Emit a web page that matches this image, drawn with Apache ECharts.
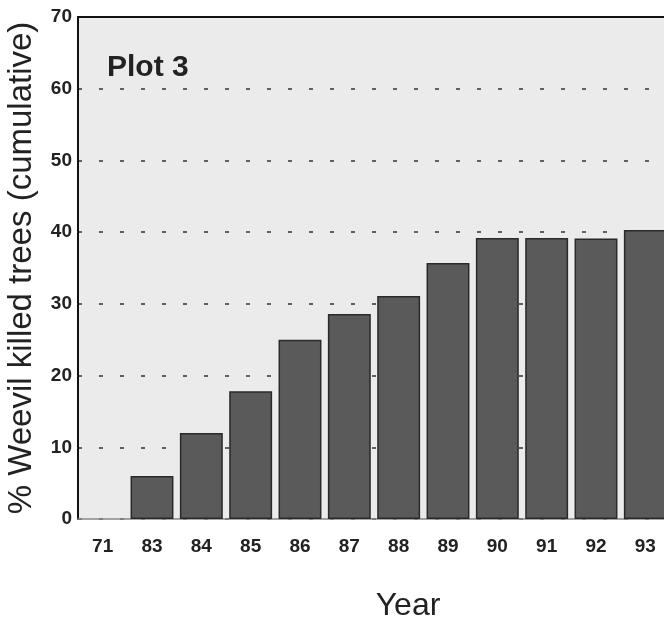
<!DOCTYPE html>
<html>
<head>
<meta charset="utf-8">
<script src="https://cdn.jsdelivr.net/npm/echarts@6/dist/echarts.min.js"></script>
<style>html,body{margin:0;padding:0;background:#fff;}#c{width:664px;height:618px;}</style>
</head>
<body>
<div id="c"></div>
<script>
const years = ['71','83','84','85','86','87','88','89','90','91','92','93'];
const killedPct = [0, 6, 12, 17.8, 25, 28.6, 31.1, 35.7, 39.2, 39.2, 39.1, 40.3];
const yTicks = [0, 70, 10];
const plotLabel = 'Plot 3';

const chart = echarts.init(document.getElementById('c'));
const font = 'Liberation Sans, Arial, Helvetica, sans-serif';
chart.setOption({
  animation: false,
  backgroundColor: '#ffffff',
  grid: {left: 78, top: 17, width: 592, bottom: 99, show: true, backgroundColor: '#ebebeb', borderWidth: 0,
         outerBoundsMode: 'none', containLabel: false},
  graphic: [{type: 'text', left: 107, top: 53, style: {text: plotLabel, font: 'bold 30px ' + font, fill: '#222'}}],
  xAxis: [{
    type: 'category', data: years,
    axisTick: {show: false},
    axisLine: {lineStyle: {color: '#888', width: 1.5}},
    axisLabel: {fontSize: 19, fontWeight: 'bold', color: '#222', margin: 18, fontFamily: font},
    name: 'Year', nameLocation: 'middle', nameGap: 71,
    nameTextStyle: {fontSize: 32, color: '#222', fontFamily: font, padding: [0, 0, 0, 68]}
  }, {
    type: 'category', data: years, position: 'top',
    axisTick: {show: false}, axisLabel: {show: false},
    axisLine: {lineStyle: {color: '#111', width: 2}}
  }],
  yAxis: {
    type: 'value', min: yTicks[0], max: yTicks[1], interval: yTicks[2],
    axisLine: {show: true, lineStyle: {color: '#111', width: 2}},
    axisTick: {show: false},
    axisLabel: {fontSize: 19, fontWeight: 'bold', color: '#222', margin: 6, fontFamily: font},
    splitLine: {show: true, lineStyle: {color: '#333', width: 1.5, type: [4, 17]}},
    name: '% Weevil killed trees (cumulative)', nameLocation: 'middle', nameRotate: 90, nameGap: 40,
    nameTextStyle: {fontSize: 33, color: '#222', fontFamily: font}
  },
  series: [{
    type: 'bar', barWidth: '87%',
    data: killedPct.map(v => v === 0 ? {value: v, itemStyle: {borderWidth: 0}} : v),
    itemStyle: {color: '#5a5a5a', borderColor: '#2a2a2a', borderWidth: 1.5}
  }]
});
</script>
</body>
</html>
